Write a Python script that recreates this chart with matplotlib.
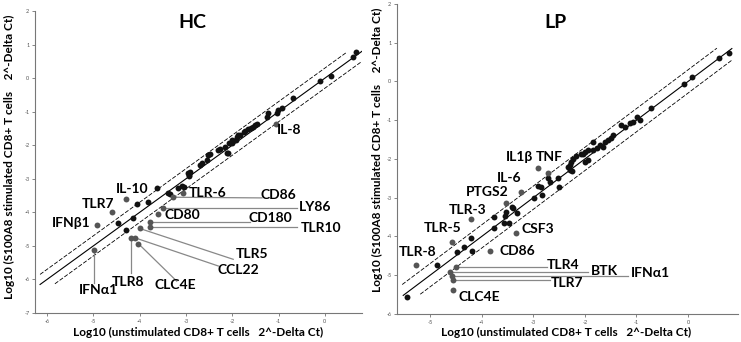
import matplotlib.pyplot as plt
import numpy as np

plt.rcParams['font.family'] = ['Lato', 'DejaVu Sans']
plt.rcParams['axes.unicode_minus'] = False

# ---- HC panel: unlabelled genes (log10 unstimulated, log10 stimulated)
hc_x = [0.68, 0.60, 0.14, -0.11, -0.68, -0.93, -1.01, -1.04, -1.22, -1.26,
        -1.46, -1.51, -1.55, -1.59, -1.66, -1.72, -1.75, -1.83, -1.87, -1.90,
        -1.93, -2.01, -2.01, -2.08, -2.16, -2.12, -2.09, -2.30, -2.27, -2.48,
        -2.53, -2.55, -2.66, -2.70, -2.91, -2.94, -2.95, -2.93, -3.18, -3.09,
        -3.04, -3.38, -3.35, -3.63, -3.81, -4.06, -4.14, -4.47, -4.29]
hc_y = [0.77, 0.64, 0.06, -0.08, -0.60, -0.89, -0.96, -1.04, -1.05, -1.15,
        -1.37, -1.40, -1.45, -1.48, -1.53, -1.57, -1.60, -1.69, -1.69, -1.74,
        -1.84, -1.84, -1.94, -1.94, -2.04, -2.23, -2.24, -2.14, -2.10, -2.26,
        -2.28, -2.44, -2.54, -2.59, -2.79, -2.89, -2.82, -2.92, -3.28, -3.22,
        -3.25, -3.43, -3.46, -3.27, -3.68, -3.76, -4.16, -4.33, -4.53]

# HC labelled genes
hc_genes = ["IL-8", "IL-10", "TLR7", "IFNβ1", "TLR-6", "CD86", "LY86", "CD80",
            "CD180", "TLR10", "TLR5", "CCL22", "TLR8", "CLC4E", "IFNα1"]
hc_gx = [-1.06, -4.30, -4.60, -4.92, -3.06, -3.28, -3.49, -3.61,
         -3.77, -3.77, -4.00, -4.10, -4.19, -4.03, -4.98]
hc_gy = [-1.37, -3.61, -3.99, -4.38, -3.43, -3.55, -3.86, -4.06,
         -4.30, -4.43, -4.48, -4.76, -4.76, -4.93, -5.12]

# ---- LP panel: unlabelled genes
lp_x = [0.79, 0.61, 0.07, -0.07, -0.72, -0.98, -0.93, -1.07, -1.12, -1.23,
        -1.30, -1.45, -1.49, -1.55, -1.61, -1.71, -1.65, -1.84, -1.77, -1.84,
        -1.93, -2.00, -2.03, -2.07, -2.17, -2.22, -2.26, -1.93, -2.00, -2.29,
        -2.33, -2.29, -2.25, -2.52, -2.71, -2.67, -2.91, -2.84, -2.51, -2.98,
        -2.83, -3.39, -3.42, -3.53, -3.32, -3.55, -3.76, -3.46, -3.56, -3.76,
        -4.21, -4.35, -4.48, -4.18, -4.86, -5.45]
lp_y = [0.73, 0.61, 0.12, -0.07, -0.68, -0.92, -0.99, -1.04, -1.08, -1.17,
        -1.12, -1.38, -1.46, -1.51, -1.55, -1.64, -1.68, -1.55, -1.72, -1.76,
        -1.78, -1.81, -1.88, -1.86, -1.92, -2.00, -2.09, -2.03, -2.07, -2.15,
        -2.20, -2.28, -2.31, -2.49, -2.49, -2.59, -2.70, -2.72, -2.73, -3.01,
        -2.93, -3.27, -3.23, -3.36, -3.40, -3.47, -3.50, -3.66, -3.64, -3.79,
        -4.05, -4.28, -4.39, -4.37, -4.74, -5.57]

# LP labelled genes
lp_genes = ["IL1β", "TNF", "IL-6", "PTGS2", "TLR-3", "TLR-5", "TLR-8", "CD86",
            "CSF3", "TLR4", "BTK", "IFNα1", "TLR7", "CLC4E"]
lp_gx = [-2.90, -2.71, -3.24, -3.53, -4.21, -4.58, -5.28, -3.84,
         -3.33, -4.50, -4.61, -4.58, -4.56, -4.56]
lp_gy = [-2.24, -2.37, -2.84, -3.14, -3.55, -4.13, -4.74, -4.37,
         -3.90, -4.80, -4.91, -5.02, -5.12, -5.38]

# label text position and optional leader-line end (data coords)
hc_label_pos = {
    "IL-8": (-0.78, -1.55, None),
    "IL-10": (-4.17, -3.29, None),
    "TLR7": (-4.91, -3.75, None),
    "IFNβ1": (-5.47, -4.32, None),
    "TLR-6": (-2.54, -3.42, None),
    "CD86": (-1.00, -3.48, (-1.36, -3.57)),
    "LY86": (-0.22, -3.84, (-0.60, -3.86)),
    "CD80": (-3.08, -4.08, None),
    "CD180": (-1.17, -4.18, (-1.62, -4.30)),
    "TLR10": (-0.09, -4.48, (-0.61, -4.43)),
    "TLR5": (-1.58, -5.23, (-1.98, -5.40)),
    "CCL22": (-1.86, -5.72, (-2.30, -5.60)),
    "CLC4E": (-3.22, -6.17, (-3.20, -6.05)),
    "TLR8": (-4.26, -6.08, (-4.19, -5.80)),
    "IFNα1": (-4.90, -6.31, (-4.98, -6.10)),
}
lp_label_pos = {
    "IL1β": (-3.26, -1.96, None),
    "TNF": (-2.69, -1.96, None),
    "IL-6": (-3.47, -2.49, None),
    "PTGS2": (-3.90, -2.86, None),
    "TLR-3": (-4.27, -3.32, None),
    "TLR-5": (-4.76, -3.79, None),
    "TLR-8": (-5.25, -4.40, None),
    "CD86": (-3.30, -4.37, None),
    "CSF3": (-2.91, -3.81, None),
    "TLR4": (-2.43, -4.74, (-2.74, -4.80)),
    "BTK": (-1.61, -4.89, (-1.94, -4.91)),
    "IFNα1": (-0.72, -4.95, (-1.16, -5.02)),
    "TLR7": (-2.35, -5.21, (-2.67, -5.12)),
    "CLC4E": (-4.05, -5.56, None),
}

fig = plt.figure(figsize=(7.41, 3.42), dpi=100)
ax1 = fig.add_axes([0.0472, 0.0848, 0.4413, 0.883])
ax2 = fig.add_axes([0.5358, 0.0819, 0.4602, 0.9064])


def draw_panel(ax, x, y, genes, gx, gy, label_pos, xlim, ylim, xticks, yticks, line_ext, title, title_xy):
    (c0, c1), (u0, u1), (l0, l1) = line_ext
    xs = np.array([c0, c1])
    ax.plot(xs, xs, color='black', lw=0.8, zorder=1)
    xs = np.array([u0, u1])
    ax.plot(xs, xs + 0.3, color='black', lw=0.6, ls=(0, (5, 2)), zorder=1)
    xs = np.array([l0, l1])
    ax.plot(xs, xs - 0.3, color='black', lw=0.6, ls=(0, (5, 2)), zorder=1)

    ax.scatter(x, y, s=18, color='#111111', zorder=3, linewidths=0)
    ax.scatter(gx, gy, s=18, color='#555555', zorder=3, linewidths=0)

    for g, px, py in zip(genes, gx, gy):
        tx, ty, end = label_pos[g]
        if end is not None:
            ax.plot([px, end[0]], [py, end[1]], color='#888888', lw=0.9, zorder=2)
        ax.text(tx, ty, g, fontsize=10, fontweight='bold', ha='center', va='center')

    ax.set_xlim(*xlim)
    ax.set_ylim(*ylim)
    ax.set_xticks(xticks)
    ax.set_yticks(yticks)
    ax.tick_params(labelsize=4, length=2, width=0.5, colors='#555555', pad=2)
    for s in ['top', 'right']:
        ax.spines[s].set_visible(False)
    for s in ['left', 'bottom']:
        ax.spines[s].set_color('#777777')
        ax.spines[s].set_linewidth(0.8)
    ax.text(title_xy[0], title_xy[1], title, transform=fig.transFigure, fontsize=14,
            fontweight='bold', ha='center', va='center')


draw_panel(ax1, hc_x, hc_y, hc_genes, hc_gx, hc_gy, hc_label_pos,
           (-6.26, 0.80), (-7, 2), range(-6, 1), range(-7, 3),
           ((-6.15, 0.80), (-6.15, 0.45), (-5.83, 0.80)), "HC", (192 / 741, 1 - 22 / 342))
draw_panel(ax2, lp_x, lp_y, lp_genes, lp_gx, lp_gy, lp_label_pos,
           (-5.64, 0.97), (-6, 2), range(-5, 1), range(-6, 3),
           ((-5.52, 0.85), (-5.54, 0.56), (-5.19, 0.85)), "LP", (556 / 741, 1 - 22 / 342))

ylab = "Log10 (S100A8 stimulated CD8+ T cells    2^-Delta Ct)"
xlab = "Log10 (unstimulated CD8+ T cells   2^-Delta Ct)"
fig.text(9 / 741, 1 - 157 / 342, ylab, rotation=90, fontsize=8.5, fontweight='bold', ha='center', va='center')
fig.text(377 / 741, 1 - 150 / 342, ylab, rotation=90, fontsize=8.5, fontweight='bold', ha='center', va='center')
fig.text(198 / 741, 1 - 332 / 342, xlab, fontsize=8.5, fontweight='bold', ha='center', va='center')
fig.text(566 / 741, 1 - 332 / 342, xlab, fontsize=8.5, fontweight='bold', ha='center', va='center')

fig.savefig("out.png", dpi=100)
